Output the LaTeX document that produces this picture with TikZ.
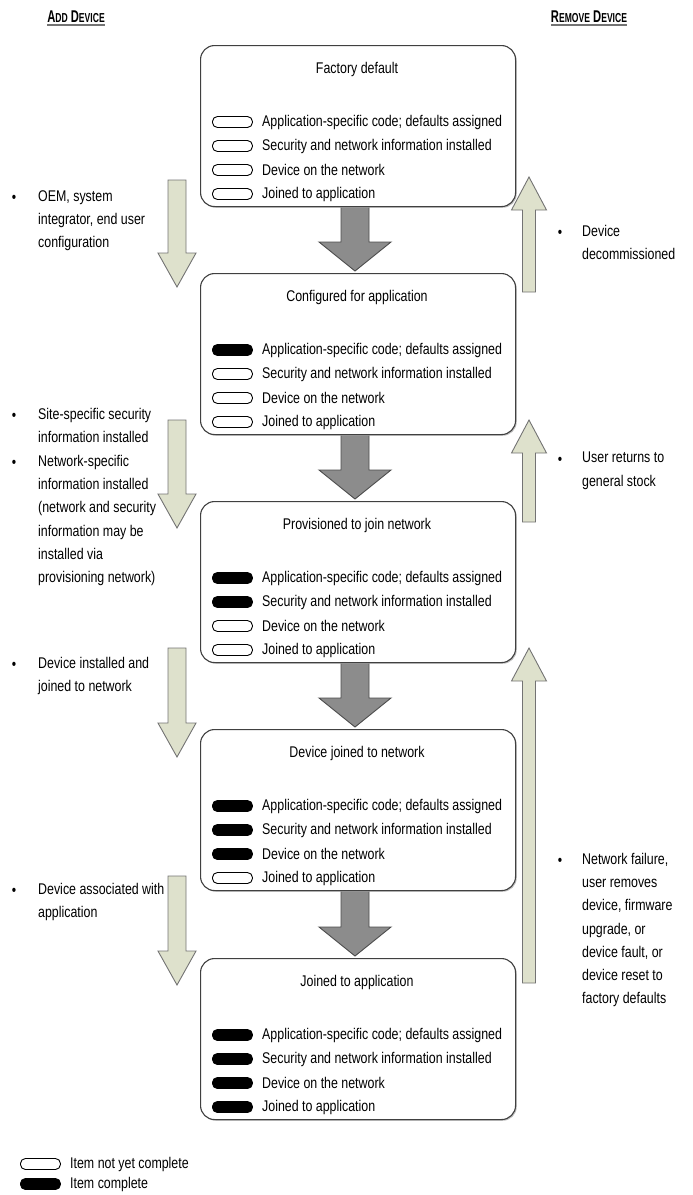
\documentclass[tikz,border=0pt]{standalone}
\usepackage{fontspec}
\usetikzlibrary{shadows}
\setmainfont{Liberation Sans}[FakeStretch=0.8]
\newfontfamily\hdfont{Liberation Sans}[FakeStretch=0.66]
\definecolor{lightolive}{RGB}{222,225,204}
\newcommand{\BlockArrow}[7]{%
  \pgfmathsetmacro\ybase{#4-(#7)*sign(#4-#3)}%
  \draw[#1] ({#2-#5},#3) -- ({#2-#5},\ybase) -- ({#2-#6},\ybase) -- (#2,#4)
    -- ({#2+#6},\ybase) -- ({#2+#5},\ybase) -- ({#2+#5},#3) -- cycle;}
\begin{document}
\begin{tikzpicture}[x=1pt,y=-1pt,
  font=\fontsize{15.5}{23.2}\selectfont,
  box/.style={draw=black!75, fill=white, line width=1.1pt, rounded corners=14pt,
    minimum width=315pt, minimum height=161pt, anchor=north west, inner sep=0pt,
    drop shadow={shadow xshift=1.2pt, shadow yshift=-1.2pt, fill=black!35, opacity=0.7}},
  pillo/.style={draw=black, fill=white, line width=0.9pt, rounded corners=5pt,
    minimum width=40pt, minimum height=11pt, anchor=west, inner sep=0pt},
  pillf/.style={draw=black, fill=black, line width=0.9pt, rounded corners=5pt,
    minimum width=40pt, minimum height=11pt, anchor=west, inner sep=0pt},
  item/.style={anchor=west, inner sep=0pt},
  ttl/.style={inner sep=0pt},
  darr/.style={draw=black!70, fill=black!45, line width=0.9pt},
  larr/.style={draw=black!55, fill=lightolive, line width=0.9pt},
  note/.style={anchor=north west, align=left, inner sep=0pt},
  bul/.style={anchor=base, inner sep=0pt},
  head/.style={anchor=base, inner sep=0pt, font=\hdfont\fontsize{17}{20}\selectfont\bfseries},
  uline/.style={draw=black!55, line width=1.6pt}]
\useasboundingbox (0,0) rectangle (693,1195);

% headers
\node[head] (hadd) at (76,22) {A{\fontsize{13}{15}\selectfont DD} D{\fontsize{13}{15}\selectfont EVICE}};
\node[head] (hrem) at (589,22) {R{\fontsize{13}{15}\selectfont EMOVE} D{\fontsize{13}{15}\selectfont EVICE}};
\draw[uline] ([yshift=-3pt]hadd.base west) -- ([yshift=-3pt]hadd.base east);
\draw[uline] ([yshift=-3pt]hrem.base west) -- ([yshift=-3pt]hrem.base east);

% dark arrows between states
\BlockArrow{darr}{355}{200}{271}{14}{36}{29}
\BlockArrow{darr}{355}{430}{499}{14}{36}{29}
\BlockArrow{darr}{355}{658}{727}{14}{36}{29}
\BlockArrow{darr}{355}{885}{956}{14}{36}{29}

% state boxes
\foreach \i/\top/\ttltext/\nf in {1/45/Factory default/0,
  2/273/Configured for application/1,
  3/501/Provisioned to join network/2,
  4/729/Device joined to network/3,
  5/958/Joined to application/4}{
  \node[box] (b\i) at (200,\top) {};
  \node[ttl] (t\i) at (357,{\top+24}) {\ttltext};
  \foreach \k/\dy/\txt in {1/0/{Application-specific code; defaults assigned},
    2/24/{Security and network information installed},
    3/48/{Device on the network},
    4/72/{Joined to application}}{
    \ifnum\k>\nf \def\ps{pillo}\else\def\ps{pillf}\fi
    \node[\ps] (p\i\k) at (212,{\top+77+\dy}) {};
    \node[item] (i\i\k) at (262,{\top+77+\dy}) {\txt};
  }
}

% left (add) arrows
\BlockArrow{larr}{177}{180}{287}{9}{19}{34}
\BlockArrow{larr}{177}{420}{528}{9}{19}{34}
\BlockArrow{larr}{177}{648}{757}{9}{19}{34}
\BlockArrow{larr}{177}{876}{985}{9}{19}{34}

% right (remove) arrows
\BlockArrow{larr}{529}{292}{177}{6.5}{17.5}{33}
\BlockArrow{larr}{529}{522}{420}{6.5}{17.5}{33}
\BlockArrow{larr}{529}{983}{648}{6.5}{17.5}{33}

% left notes
\node[bul] (lb1) at (14,202) {\textbullet};
\node[note] (ln1) at (38,190) {OEM, system\\integrator, end user\\configuration};
\node[bul] (lb2) at (14,420) {\textbullet};
\node[note] (ln2) at (38,408) {Site-specific security\\information installed};
\node[bul] (lb3) at (14,467) {\textbullet};
\node[note] (ln3) at (38,455) {Network-specific\\information installed\\(network and security\\information may be\\installed via\\provisioning network)};
\node[bul] (lb4) at (14,669) {\textbullet};
\node[note] (ln4) at (38,657) {Device installed and\\joined to network};
\node[bul] (lb5) at (14,895) {\textbullet};
\node[note] (ln5) at (38,883) {Device associated with\\application};

% right notes
\node[bul] (rb1) at (560,237) {\textbullet};
\node[note] (rn1) at (582,225) {Device\\decommissioned};
\node[bul] (rb2) at (560,464) {\textbullet};
\node[note] (rn2) at (582,452) {User returns to\\general stock};
\node[bul] (rb3) at (560,865) {\textbullet};
\node[note] (rn3) at (582,853) {Network failure,\\user removes\\device, firmware\\upgrade, or\\device fault, or\\device reset to\\factory defaults};

% legend
\node[pillo] (lgo) at (20,1164) {};
\node[item] (lgot) at (70,1164) {Item not yet complete};
\node[pillf] (lgf) at (20,1184) {};
\node[item] (lgft) at (70,1184) {Item complete};
\end{tikzpicture}
\end{document}
